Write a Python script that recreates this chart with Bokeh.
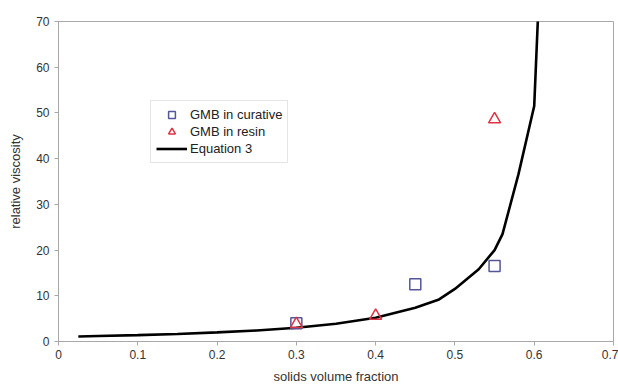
from bokeh.plotting import figure
from bokeh.models import FixedTicker, Legend, LegendItem, Range1d
from bokeh.embed import file_html
from bokeh.resources import INLINE

# Data
curative_x = [0.30, 0.45, 0.55]
curative_y = [4.0, 12.5, 16.5]
resin_x = [0.30, 0.40, 0.55]
resin_y = [3.8, 5.6, 48.6]
eq3_x = [0.025, 0.05, 0.10, 0.15, 0.20, 0.25, 0.30, 0.35, 0.40, 0.45, 0.48, 0.50, 0.53, 0.55, 0.56, 0.58, 0.60, 0.605]
eq3_y = [1.1, 1.2, 1.4, 1.65, 2.0, 2.4, 3.0, 3.9, 5.2, 7.4, 9.2, 11.5, 15.8, 20.0, 23.5, 36.5, 51.5, 72.0]
x_ticks = [0, 0.1, 0.2, 0.3, 0.4, 0.5, 0.6, 0.7]
x_tick_labels = ["0", "0.1", "0.2", "0.3", "0.4", "0.5", "0.6", "0.7"]
y_ticks = [0, 10, 20, 30, 40, 50, 60, 70]

FONT = "Liberation Sans"
AXIS_COLOR = "#a8a8a8"

p = figure(width=618, height=386, output_backend="svg", toolbar_location=None,
           x_range=Range1d(0, 0.7), y_range=Range1d(0, 70),
           min_border_left=58, min_border_right=5, min_border_top=21, min_border_bottom=45)
p.xgrid.visible = False
p.ygrid.visible = False
p.outline_line_color = AXIS_COLOR
p.outline_line_width = 1
p.background_fill_color = "white"
p.border_fill_color = "white"

line = p.line(eq3_x, eq3_y, line_color="black", line_width=2.6)
sq = p.scatter(curative_x, curative_y, marker="square", size=11, fill_color=None,
               line_color="#55559a", line_width=1.5)
tr = p.scatter(resin_x, resin_y, marker="triangle", size=12, fill_color=None,
               line_color="#dd3344", line_width=1.5)

for ax in (p.xaxis[0], p.yaxis[0]):
    ax.axis_line_color = AXIS_COLOR
    ax.major_tick_line_color = AXIS_COLOR
    ax.minor_tick_line_color = None
    ax.major_tick_in = 0
    ax.major_tick_out = 4
    ax.major_label_text_font = FONT
    ax.major_label_text_font_size = "12px"
    ax.major_label_text_color = "#333333"
    ax.axis_label_text_font = FONT
    ax.axis_label_text_font_size = "13px"
    ax.axis_label_text_font_style = "normal"
    ax.axis_label_text_color = "#333333"

p.xaxis.ticker = FixedTicker(ticks=x_ticks)
p.xaxis.major_label_overrides = {t: l for t, l in zip(x_ticks, x_tick_labels)}
p.xaxis.major_label_standoff = 4
p.xaxis.axis_label = "solids volume fraction"
p.xaxis.axis_label_standoff = 7
p.yaxis.ticker = FixedTicker(ticks=y_ticks)
p.yaxis.major_label_standoff = 5
p.yaxis.axis_label = "relative viscosity"
p.yaxis.axis_label_standoff = 10

legend = Legend(items=[
    LegendItem(label="GMB in curative", renderers=[sq]),
    LegendItem(label="GMB in resin", renderers=[tr]),
    LegendItem(label="Equation 3", renderers=[line]),
], location=(92, 178))
legend.label_text_font = FONT
legend.label_text_font_size = "13px"
legend.label_text_color = "#222222"
legend.border_line_color = "#cccccc"
legend.padding = 5
legend.spacing = 0
legend.label_height = 17
legend.glyph_height = 17
legend.glyph_width = 31
legend.label_standoff = 3
legend.margin = 0
legend.background_fill_alpha = 1
p.add_layout(legend)

open("out.html", "w").write(file_html(p, INLINE))
